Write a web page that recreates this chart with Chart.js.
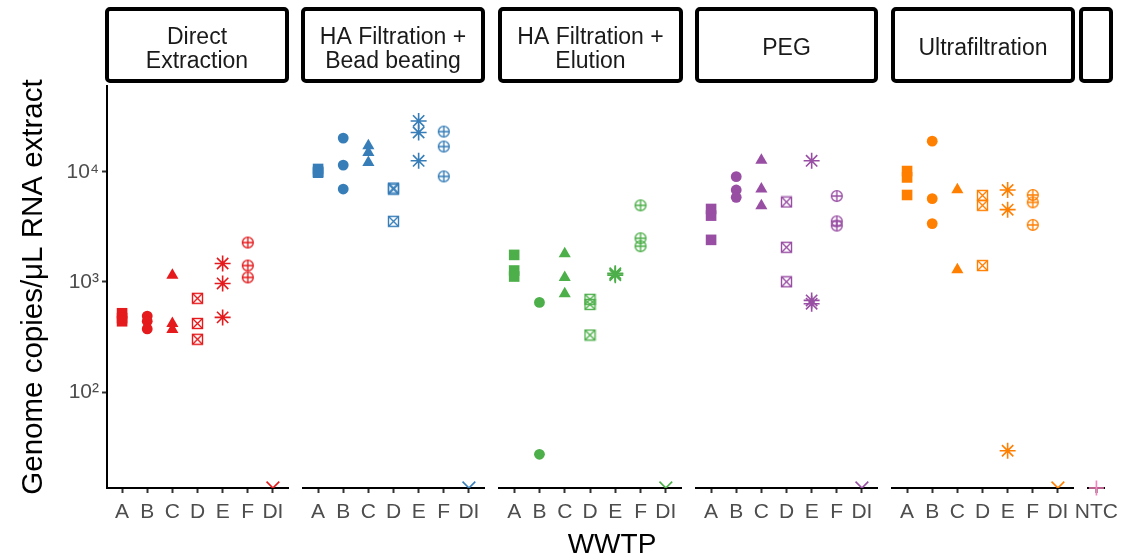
<!DOCTYPE html>
<html>
<head>
<meta charset="utf-8">
<script src="https://cdn.jsdelivr.net/npm/chart.js@4.4.0/dist/chart.umd.min.js"></script>
<style>
html,body{margin:0;padding:0;background:#fff;}
#wrap{position:relative;width:1132px;height:555px;overflow:hidden;}
#wrap canvas{position:absolute;left:0;top:0;}
#xtitle{position:absolute;left:512px;width:200px;top:528px;line-height:32px;text-align:center;font-size:28px;font-family:"Liberation Sans",Arial,sans-serif;color:#000;}
</style>
</head>
<body>
<div id="wrap">
  <canvas id="p0" width="1132" height="555"></canvas>
  <canvas id="p1" width="1132" height="555"></canvas>
  <canvas id="p2" width="1132" height="555"></canvas>
  <canvas id="p3" width="1132" height="555"></canvas>
  <canvas id="p4" width="1132" height="555"></canvas>
  <canvas id="p5" width="1132" height="555"></canvas>
  <div id="xtitle">WWTP</div>
</div>
<script>
// categories
const wwtp = ['A','B','C','D','E','F','DI'];
const ntcLabels = ['NTC'];
const methods = [['Direct','Extraction'], ['HA Filtration +','Bead beating'], ['HA Filtration +','Elution'], ['PEG'], ['Ultrafiltration'], ['']];

// genome copies / uL per WWTP (replicates), DI / NTC sit at the axis floor
const directExtraction = [[520,470,440],[490,440,375],[1150,420,370],[710,420,302],[1470,969,477],[2280,1410,1100],[13.5]];
const haBeadBeating   = [[10600,10000,9800],[20200,11500,6970],[17200,14960,12140],[7120,6950,3550],[28900,22700,12570],[23150,16930,9070],[13.5]];
const haElution       = [[1760,1270,1120],[652,27.3],[1800,1100,782],[695,626,330],[1200,1180,1150],[4955,2490,2110],[13.5]];
const peg             = [[4595,4000,2410],[9020,6830,5855],[12750,6970,4923],[5320,2065,1004],[12570,680,635],[6025,3550,3245],[13.5]];
const ultrafiltration = [[10150,8880,6155],[18960,5700,3384],[6875,1290],[6100,4955,1410],[6830,4530,29.4],[6155,5275,3294],[13.5]];
const ntc             = [[13.5]];

const yTicks = [100, 1000, 10000];
const colors = ['#E41A1C','#377EB8','#4DAF4A','#984EA3','#FF7F00','#F781BF'];

const FONT = '"Liberation Sans", Arial, sans-serif';
const SUP = {'2':'\u00B2','3':'\u00B3','4':'\u2074'};

// panel geometry (plot area px) and strip box offsets
const panelX = [[107,288],[303,484],[499,681],[696,877],[892,1073],[1088,1118]];
const stripX = [[107,287],[303,483],[500,681],[697,876],[893,1073],[1081,1111]];

function squareCross(color){
  const c = document.createElement('canvas'); c.width = 13; c.height = 13;
  const g = c.getContext('2d'); g.strokeStyle = color; g.lineWidth = 1.4;
  g.strokeRect(1.5,1.5,10,10);
  g.beginPath(); g.moveTo(1.5,1.5); g.lineTo(11.5,11.5); g.moveTo(11.5,1.5); g.lineTo(1.5,11.5); g.stroke();
  return c;
}
function circlePlus(color){
  const c = document.createElement('canvas'); c.width = 14; c.height = 14;
  const g = c.getContext('2d'); g.strokeStyle = color; g.lineWidth = 1.4;
  g.beginPath(); g.arc(7,7,5.4,0,Math.PI*2); g.stroke();
  g.beginPath(); g.moveTo(7,1.6); g.lineTo(7,12.4); g.moveTo(1.6,7); g.lineTo(12.4,7); g.stroke();
  return c;
}

// one shape per WWTP, like the ggplot shape scale
function styleFor(name, color){
  switch(name){
    case 'A': return {pointStyle:'rect', radius:7.5, filled:true};
    case 'B': return {pointStyle:'circle', radius:5.4, filled:true};
    case 'C': return {pointStyle:'triangle', radius:7, filled:true};
    case 'D': return {pointStyle:squareCross(color), radius:6, filled:false};
    case 'E': return {pointStyle:'star', radius:8, filled:false};
    case 'F': return {pointStyle:circlePlus(color), radius:6, filled:false};
    case 'DI': return {pointStyle:'crossRot', radius:9, filled:false};
    default: return {pointStyle:'cross', radius:7.5, filled:false};
  }
}

const stripPlugin = {
  id: 'strip',
  afterDraw(chart, args, opts){
    const ctx = chart.ctx;
    const l = opts.x[0], r = opts.x[1];
    ctx.save();
    ctx.lineWidth = 4; ctx.strokeStyle = '#000';
    ctx.beginPath();
    if(ctx.roundRect) ctx.roundRect(l, 9, r - l, 72, 3); else ctx.rect(l, 9, r - l, 72);
    ctx.stroke();
    ctx.fillStyle = '#1A1A1A';
    ctx.font = '23px ' + FONT;
    ctx.textAlign = 'center'; ctx.textBaseline = 'alphabetic';
    const cx = (l + r) / 2;
    if(opts.lines.length === 1) ctx.fillText(opts.lines[0], cx, 55);
    else opts.lines.forEach((t, i) => ctx.fillText(t, cx, 44 + i * 24));
    ctx.restore();
  }
};

function makePanel(idx, labels, values){
  const first = idx === 0;
  const color = colors[idx];
  const datasets = labels.map((lab, i) => {
    const st = styleFor(lab, color);
    return {
      label: lab,
      data: values[i].map(v => ({x: i, y: v})),
      pointStyle: st.pointStyle,
      pointRadius: st.radius,
      backgroundColor: st.filled ? color : 'rgba(0,0,0,0)',
      borderColor: color,
      borderWidth: st.filled ? 0 : 1.6,
      clip: lab === 'NTC' ? false : 0
    };
  });
  const [left, right] = panelX[idx];
  return new Chart(document.getElementById('p' + idx), {
    type: 'scatter',
    data: { datasets },
    options: {
      responsive: false,
      animation: false,
      events: [],
      layout: { padding: { left: first ? 0 : left, right: 1132 - right, top: 86, bottom: 27 } },
      plugins: {
        legend: { display: false },
        tooltip: { enabled: false },
        strip: { lines: methods[idx], x: stripX[idx] }
      },
      scales: {
        x: {
          type: 'linear', min: -0.6, max: labels.length - 0.4, z: 1,
          afterBuildTicks: s => { s.ticks = labels.map((_, i) => ({ value: i })); },
          afterFit: s => { s.height = 40; },
          ticks: { callback: v => labels[v], color: '#4D4D4D', font: { size: 21, family: FONT }, padding: 7, autoSkip: false, maxRotation: 0 },
          grid: { display: true, drawOnChartArea: false, drawTicks: true, tickLength: 5, tickWidth: 2, color: '#333333' },
          border: { display: true, color: '#000', width: 2 }
        },
        y: {
          type: 'logarithmic', min: 13.5, max: 60000, display: first, z: 1,
          afterBuildTicks: s => { s.ticks = yTicks.map(v => ({ value: v })); },
          afterFit: s => { s.width = first ? left : 0; },
          ticks: { callback: v => '10' + SUP[String(Math.round(Math.log10(v)))], color: '#4D4D4D', font: { size: 21, family: FONT }, padding: 3 },
          grid: { display: true, drawOnChartArea: false, drawTicks: true, tickLength: 5, tickWidth: 2, color: '#333333' },
          border: { display: true, color: '#000', width: 2 },
          title: { display: true, text: 'Genome copies/\u03BCL RNA extract', color: '#000', font: { size: 29.5, family: FONT }, padding: { top: 16, bottom: 0 } }
        }
      }
    },
    plugins: [stripPlugin]
  });
}

makePanel(0, wwtp, directExtraction);
makePanel(1, wwtp, haBeadBeating);
makePanel(2, wwtp, haElution);
makePanel(3, wwtp, peg);
makePanel(4, wwtp, ultrafiltration);
makePanel(5, ntcLabels, ntc);
</script>
</body>
</html>
